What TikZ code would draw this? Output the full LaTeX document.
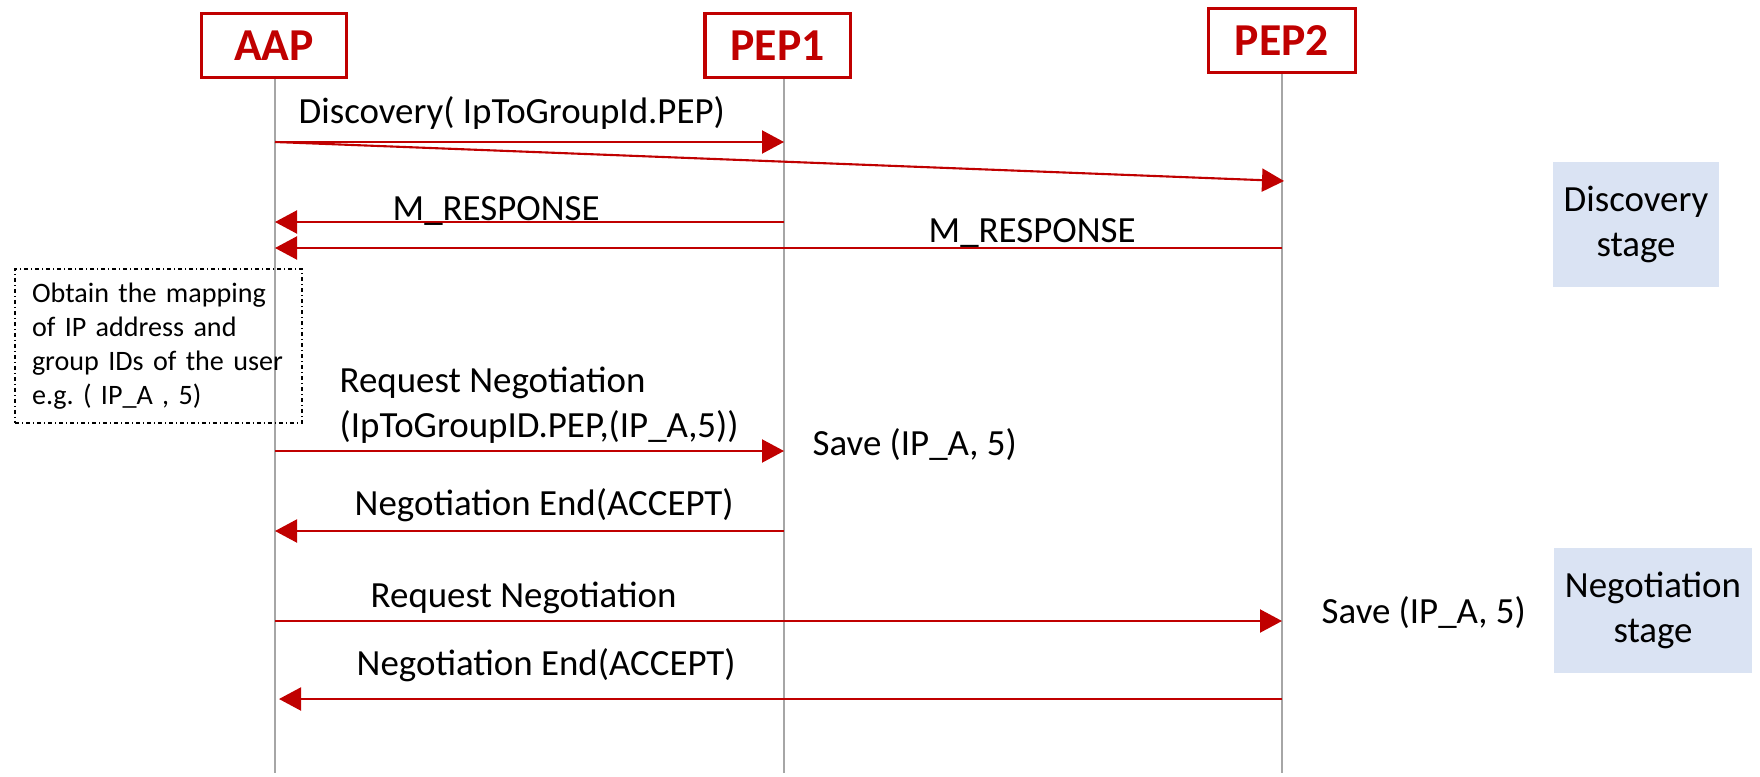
\documentclass[tikz,border=0pt]{standalone}
\usepackage{fontspec}
\setmainfont{Carlito}
\usetikzlibrary{arrows.meta}
\definecolor{dred}{HTML}{C00000}
\definecolor{stagebg}{HTML}{DAE3F3}
\definecolor{lifegray}{HTML}{A6A6A6}
\frenchspacing
\begin{document}
\begin{tikzpicture}[x=0.1mm,y=-0.1mm,
  actor/.style={draw=dred, line width=1pt, text=dred, font=\fontsize{13}{15}\selectfont\bfseries, inner sep=0pt, minimum height=6.4mm},
  life/.style={draw=lifegray, line width=0.4pt},
  msg/.style={draw=dred, line width=0.6pt, -{Triangle[length=2.2mm,width=2.3mm]}},
  lbl/.style={font=\fontsize{10.5}{12.8}\selectfont, inner sep=0pt, anchor=base west},
  stagebox/.style={fill=stagebg, inner sep=0pt, align=center, font=\fontsize{10.5}{12.8}\selectfont, minimum height=12.5mm},
  notebox/.style={draw=black, dash pattern=on 0.4mm off 0.3mm on 0.1mm off 0.3mm, line width=0.4pt, font=\fontsize{8}{9.7}\selectfont, align=left, text width=25.3mm, inner xsep=1.7mm, inner ysep=0pt, minimum height=15.4mm}
]
\useasboundingbox (0,0) rectangle (1760,776);

% actors
\node[actor, minimum width=14.5mm] (aap) at (274,45.5) {AAP};
\node[actor, minimum width=14.55mm] (pep1) at (777.5,45.5) {PEP1};
\node[actor, minimum width=14.67mm] (pep2) at (1282,40.5) {PEP2};

% lifeline ends
\coordinate (aapend) at (275,773);
\coordinate (p1end) at (784,773);
\coordinate (p2end) at (1282,773);
\draw[life] (aap.south -| aapend) -- (aapend);
\draw[life] (pep1.south -| p1end) -- (p1end);
\draw[life] (pep2.south -| p2end) -- (p2end);

% message end points
\coordinate (m1a) at (275,142);
\coordinate (m1b) at (784,142);
\coordinate (m2b) at (1284,181);
\coordinate (m3a) at (275,222);
\coordinate (m3b) at (784,222);
\coordinate (m4a) at (275,248);
\coordinate (m4b) at (1282,248);
\coordinate (m5a) at (275,451);
\coordinate (m5b) at (784,451);
\coordinate (m6a) at (275,531);
\coordinate (m6b) at (784,531);
\coordinate (m7a) at (275,621);
\coordinate (m7b) at (1282,621);
\coordinate (m8a) at (279,699);
\coordinate (m8b) at (1282,699);

\draw[msg] (m1a) -- (m1b);
\draw[msg] (m1a) -- (m2b);
\draw[msg] (m3b) -- (m3a);
\draw[msg] (m4b) -- (m4a);
\draw[msg] (m5a) -- (m5b);
\draw[msg] (m6b) -- (m6a);
\draw[msg] (m7a) -- (m7b);
\draw[msg] (m8b) -- (m8a);

% labels
\node[lbl] (disc) at (298,124) {Discovery( IpToGroupId.PEP)};
\node[lbl] (mr1) at (392,220) {M\_RESPONSE};
\node[lbl] (mr2) at (928,242) {M\_RESPONSE};
\node[lbl] (rn1a) at (339,392) {Request Negotiation};
\node[lbl] (rn1b) at (339,437) {(IpToGroupID.PEP,(IP\_A,5))};
\node[lbl] (save1) at (812,455) {Save (IP\_A, 5)};
\node[lbl] (ne1) at (354,515) {Negotiation End(ACCEPT)};
\node[lbl] (rn2) at (370,607) {Request Negotiation};
\node[lbl] (save2) at (1321,623) {Save (IP\_A, 5)};
\node[lbl] (ne2) at (356,675) {Negotiation End(ACCEPT)};

% stage boxes
\node[stagebox, minimum width=16.6mm] (dstage) at (1636,224.5) {Discovery\\stage};
\node[stagebox, minimum width=19.8mm] (nstage) at (1653,610.5) {Negotiation\\stage};

% note
\node[notebox] (note) at (158.5,346) {Obtain the mapping\\of IP address and\\group IDs of the user\\e.g. ( IP\_A , 5)};
\end{tikzpicture}
\end{document}
